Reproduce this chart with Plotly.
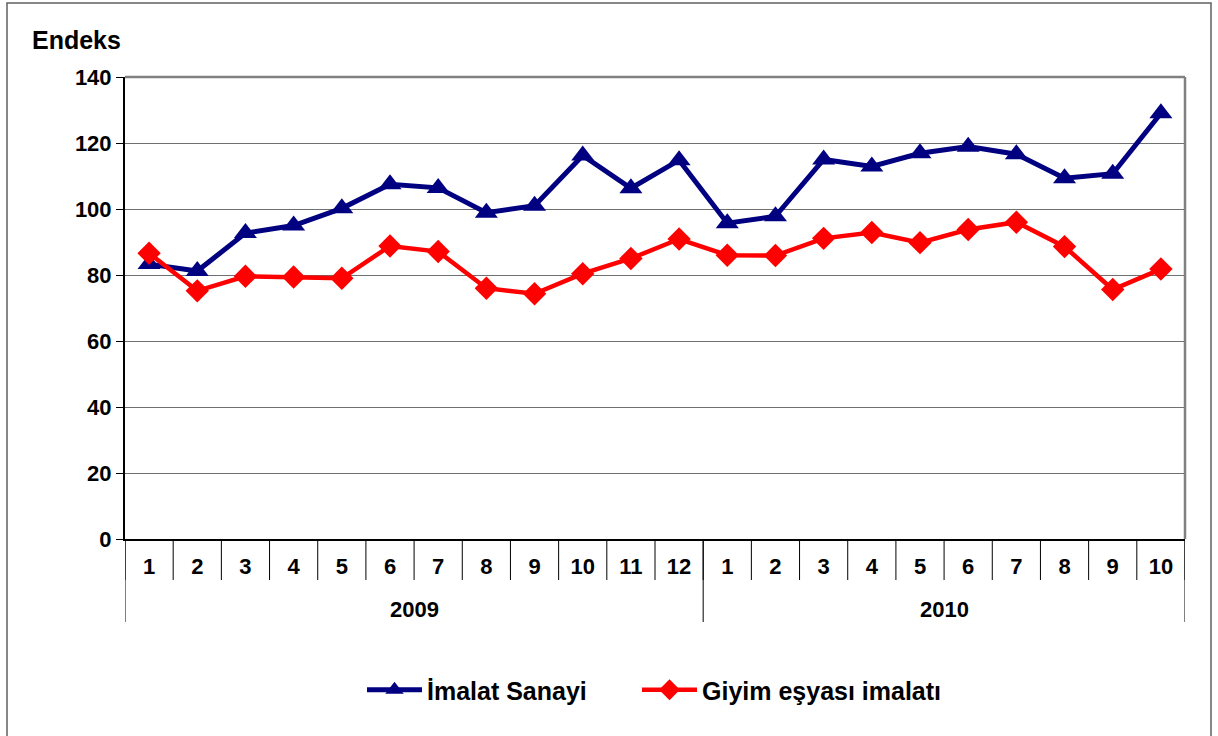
import plotly.graph_objects as go

years = ["2009"] * 12 + ["2010"] * 10
months = [str(m) for m in range(1, 13)] + [str(m) for m in range(1, 11)]
imalat = [83.3, 81.2, 92.7, 95.0, 100.2, 107.5, 106.4, 98.9, 101.0, 116.2, 106.3, 114.8,
          95.7, 97.8, 115.0, 112.9, 116.9, 118.9, 116.6, 109.3, 110.7, 129.0]
giyim = [86.6, 75.2, 79.6, 79.4, 79.0, 88.8, 87.1, 76.0, 74.3, 80.4, 85.0, 90.9,
         86.0, 85.9, 91.1, 92.9, 89.8, 93.8, 96.0, 88.6, 75.6, 81.8]
y_ticks = [0, 20, 40, 60, 80, 100, 120, 140]

FONT = "Liberation Sans, Arial, sans-serif"

keys = [f"{y}-{m}" for y, m in zip(years, months)]
n = len(keys)

fig = go.Figure()
fig.add_trace(go.Scatter(
    x=keys, y=imalat, name="İmalat Sanayi", mode="lines+markers",
    line=dict(color="#000080", width=5), legend="legend",
    marker=dict(symbol="triangle-up", size=20, color="#000080"),
))
fig.add_trace(go.Scatter(
    x=keys, y=giyim, name="Giyim eşyası imalatı", mode="lines+markers",
    line=dict(color="#FF0000", width=4.5), legend="legend2",
    marker=dict(symbol="diamond", size=18, color="#FF0000"),
))

W, H = 1218, 736
L, R, T, B = 125, 33, 77, 197
PW, PH = W - L - R, H - T - B


def px_x(p):
    return (p - L) / PW


def px_y(p):
    return (H - B - p) / PH


shapes = []
# month separators (category boundaries)
for i in range(n + 1):
    shapes.append(dict(type="line", xref="x", yref="paper", x0=i - 0.5, x1=i - 0.5,
                       y0=0, y1=px_y(580), line=dict(color="black", width=1)))
# year separators
bounds = [0] + [i for i in range(1, n) if years[i] != years[i - 1]] + [n]
for b in bounds:
    shapes.append(dict(type="line", xref="x", yref="paper", x0=b - 0.5, x1=b - 0.5,
                       y0=0, y1=px_y(622), line=dict(color="black", width=1)))
# plot-area top/right border
shapes += [
    dict(type="line", xref="paper", yref="paper", x0=0, x1=1, y0=1, y1=1,
         line=dict(color="#808080", width=2.5), layer="above"),
    dict(type="line", xref="paper", yref="paper", x0=1, x1=1, y0=0, y1=1,
         line=dict(color="#808080", width=2.5), layer="above"),
    dict(type="rect", xref="paper", yref="paper",
         x0=px_x(7), x1=px_x(1211), y0=px_y(745), y1=px_y(3),
         line=dict(color="#606060", width=1.5), layer="below"),
]

annotations = [
    dict(text="<b>Endeks</b>", xref="paper", yref="paper",
         x=px_x(30), xanchor="left", y=px_y(40), yanchor="middle",
         showarrow=False, font=dict(family=FONT, size=25, color="black")),
]
for k in range(len(bounds) - 1):
    a, b = bounds[k], bounds[k + 1]
    annotations.append(dict(text=f"<b>{years[a]}</b>", xref="x", yref="paper",
                            x=(a + b - 1) / 2, y=px_y(609), yanchor="middle",
                            showarrow=False,
                            font=dict(family=FONT, size=22, color="black")))

legend_common = dict(orientation="h", xanchor="left", y=px_y(690), yanchor="middle",
                     itemwidth=55, bgcolor="rgba(0,0,0,0)",
                     font=dict(family=FONT, size=25, color="black", weight="bold"))

fig.update_layout(
    width=W, height=H,
    margin=dict(l=L, r=R, t=T, b=B, autoexpand=False),
    paper_bgcolor="white", plot_bgcolor="white",
    font=dict(family=FONT, size=22, color="black"),
    showlegend=True,
    legend=dict(x=px_x(362), **legend_common),
    legend2=dict(x=px_x(637), **legend_common),
    xaxis=dict(
        type="category", range=[-0.5, n - 0.5], tickvals=keys, ticktext=months,
        showline=True, linecolor="black", linewidth=2,
        showgrid=False, ticks="", ticklabelstandoff=7, automargin=False,
        tickfont=dict(family=FONT, size=22, color="black", weight="bold"),
        zeroline=False,
    ),
    yaxis=dict(
        range=[0, 140], tickvals=y_ticks, showline=True, linecolor="black", linewidth=2,
        showgrid=True, gridcolor="#707070", gridwidth=1, automargin=False,
        ticks="outside", ticklen=7, tickcolor="black", tickwidth=1,
        tickfont=dict(family=FONT, size=22, color="black", weight="bold"),
        zeroline=False,
    ),
    shapes=shapes,
    annotations=annotations,
)

fig.write_html("out.html", config={"displayModeBar": False},
               post_script="document.body.style.margin='0px';")
